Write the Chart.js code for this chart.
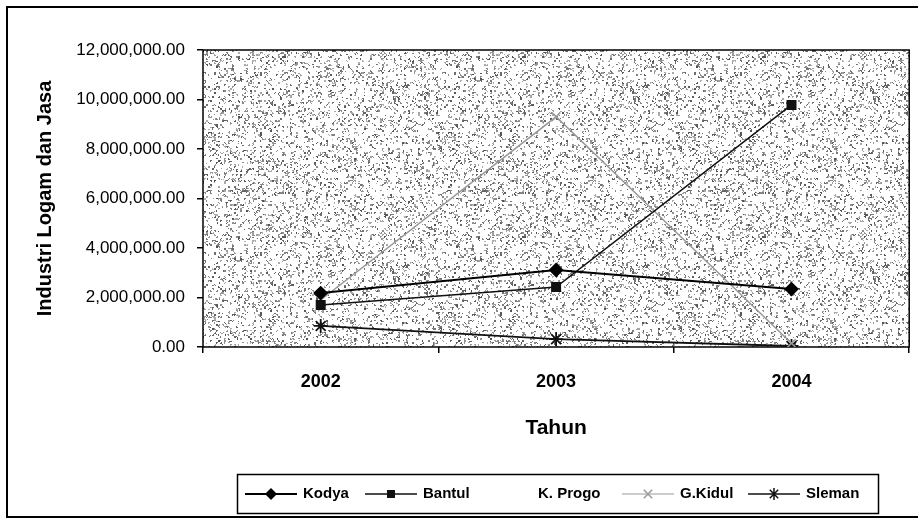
<!DOCTYPE html>
<html>
<head>
<meta charset="utf-8">
<script src="https://cdn.jsdelivr.net/npm/chart.js@4/dist/chart.umd.min.js"></script>
<style>
  html, body { margin: 0; padding: 0; background: #fff; }
  #wrap { width: 918px; height: 521px; position: relative; }
</style>
</head>
<body>
<div id="wrap"><canvas id="chart" width="918" height="521"></canvas></div>
<script>
// values
const years = ['2002', '2003', '2004'];
const kodya = [2180000, 3110000, 2340000];
const bantul = [1700000, 2420000, 9780000];
const kProgo = [null, null, null];
const gKidul = [1900000, 9300000, 150000];
const sleman = [850000, 320000, 40000];

const yMax = 12000000;
const yStep = 2000000;

const sans = '"Liberation Sans", Arial, sans-serif';

// grey speckle texture for the plot area (integer hash, only decoration)
function hash(x, y) {
    let h = Math.imul(x, 374761393) + Math.imul(y, 668265263);
    h = Math.imul(h ^ (h >>> 13), 1274126177);
    h = h ^ (h >>> 16);
    return (h >>> 0) / 4294967296;
}

function makeSpeckle() {
    const c = document.createElement('canvas');
    c.width = 240; c.height = 180;
    const g = c.getContext('2d');
    g.fillStyle = '#fff';
    g.fillRect(0, 0, c.width, c.height);
    const img = g.getImageData(0, 0, c.width, c.height);
    for (let cy = 0; cy < c.height / 2; cy++) {
        for (let cx = 0; cx < c.width / 2; cx++) {
            const h = hash(cx, cy);
            if (h > 0.3) continue;
            const v = 80 + Math.floor(h * 330);
            for (let k = 0; k < 4; k++) {
                const px = cx * 2 + (k & 1), py = cy * 2 + (k >> 1);
                if (hash(px + 311, py + 177) < 0.35) continue;
                const i = (py * c.width + px) * 4;
                img.data[i] = v; img.data[i + 1] = v; img.data[i + 2] = v;
            }
        }
    }
    g.putImageData(img, 0, 0);
    return c;
}

const legendItems = [
    {label: 'Kodya', x: 245, color: '#000', width: 2, style: 'rectRot', r: 6},
    {label: 'Bantul', x: 365, color: '#111', width: 1.5, style: 'rect', r: 5},
    {label: 'K. Progo', x: 480, color: null},
    {label: 'G.Kidul', x: 622, color: '#999', width: 1.2, style: 'crossRot', r: 6},
    {label: 'Sleman', x: 748, color: '#111', width: 1.5, style: 'star', r: 6}
];

function drawMarker(ctx, style, x, y, r, color) {
    ctx.save();
    ctx.fillStyle = color;
    ctx.strokeStyle = color;
    ctx.lineWidth = 1.5;
    ctx.beginPath();
    if (style === 'rectRot') {
        ctx.moveTo(x, y - r); ctx.lineTo(x + r, y); ctx.lineTo(x, y + r); ctx.lineTo(x - r, y);
        ctx.closePath(); ctx.fill();
    } else if (style === 'rect') {
        ctx.rect(x - r * 0.8, y - r * 0.8, r * 1.6, r * 1.6); ctx.fill();
    } else if (style === 'crossRot') {
        const d = r * 0.7;
        ctx.moveTo(x - d, y - d); ctx.lineTo(x + d, y + d);
        ctx.moveTo(x + d, y - d); ctx.lineTo(x - d, y + d);
        ctx.stroke();
    } else if (style === 'star') {
        const d = r * 0.7;
        ctx.moveTo(x - d, y - d); ctx.lineTo(x + d, y + d);
        ctx.moveTo(x + d, y - d); ctx.lineTo(x - d, y + d);
        ctx.moveTo(x, y - r); ctx.lineTo(x, y + r);
        ctx.stroke();
    }
    ctx.restore();
}

const framePlugin = {
    id: 'frame',
    beforeDatasetsDraw(chart) {
        const {ctx, chartArea: a} = chart;
        if (!chart._speckle) chart._speckle = ctx.createPattern(makeSpeckle(), 'repeat');
        ctx.save();
        ctx.fillStyle = chart._speckle;
        ctx.fillRect(a.left, a.top, a.right - a.left, a.bottom - a.top);
        ctx.strokeStyle = '#000';
        ctx.lineWidth = 1.5;
        ctx.strokeRect(a.left, a.top, a.right - a.left, a.bottom - a.top);
        ctx.restore();
    },
    afterDraw(chart) {
        const ctx = chart.ctx;
        ctx.save();
        // outer chart frame
        ctx.strokeStyle = '#000';
        ctx.lineWidth = 2;
        ctx.strokeRect(7, 7, 920, 510);
        // legend box and entries
        ctx.lineWidth = 1.5;
        ctx.strokeRect(237.5, 474.5, 641, 39);
        ctx.font = 'bold 15px ' + sans;
        ctx.textBaseline = 'middle';
        const y = 494;
        legendItems.forEach(it => {
            if (it.color) {
                ctx.strokeStyle = it.color;
                ctx.lineWidth = it.width;
                ctx.beginPath();
                ctx.moveTo(it.x, y); ctx.lineTo(it.x + 52, y);
                ctx.stroke();
                drawMarker(ctx, it.style, it.x + 26, y, it.r, it.color);
            }
            ctx.fillStyle = '#000';
            ctx.fillText(it.label, it.x + 58, y);
        });
        ctx.restore();
    }
};

new Chart(document.getElementById('chart'), {
    type: 'line',
    data: {
        labels: years,
        datasets: [
            {label: 'Kodya', data: kodya, borderColor: '#000', backgroundColor: '#000', borderWidth: 2,
             pointStyle: 'rectRot', pointRadius: 6},
            {label: 'Bantul', data: bantul, borderColor: '#111', backgroundColor: '#111', borderWidth: 1.5,
             pointStyle: 'rect', pointRadius: 6},
            {label: 'K. Progo', data: kProgo, borderColor: 'rgba(0,0,0,0)', backgroundColor: 'rgba(0,0,0,0)',
             pointRadius: 0},
            {label: 'G.Kidul', data: gKidul, borderColor: '#999', backgroundColor: '#999', borderWidth: 1.5,
             pointStyle: 'crossRot', pointRadius: 6},
            {label: 'Sleman', data: sleman, borderColor: '#111', backgroundColor: '#111', borderWidth: 1.8,
             pointStyle: 'star', pointRadius: 7, pointBorderWidth: 1.8}
        ]
    },
    options: {
        responsive: false,
        animation: false,
        layout: {padding: {left: 0, top: 50, right: 5, bottom: 74}},
        plugins: {legend: {display: false}, tooltip: {enabled: false}},
        scales: {
            x: {
                offset: true,
                grid: {offset: true, drawOnChartArea: false, tickLength: 6, color: '#000', lineWidth: 1.5},
                border: {display: false},
                ticks: {color: '#000', padding: 18, font: {family: sans, size: 18, weight: 'bold'}},
                title: {display: true, text: 'Tahun', color: '#000', padding: {top: 0, bottom: 6},
                        font: {family: sans, size: 21, weight: 'bold'}},
                afterFit: s => { s.height = 100; }
            },
            y: {
                min: 0, max: yMax,
                grid: {drawOnChartArea: false, tickLength: 6, color: '#000', lineWidth: 1.5},
                border: {display: false},
                ticks: {stepSize: yStep, color: '#000', padding: 12, font: {family: sans, size: 17},
                        callback: v => v.toLocaleString('en-US', {minimumFractionDigits: 2, maximumFractionDigits: 2})},
                title: {display: true, text: 'Industri Logam dan Jasa', color: '#000', padding: {top: 33, bottom: 0},
                        font: {family: sans, size: 20, weight: 'bold'}},
                afterFit: s => { s.width = 203; }
            }
        }
    },
    plugins: [framePlugin]
});
</script>
</body>
</html>
